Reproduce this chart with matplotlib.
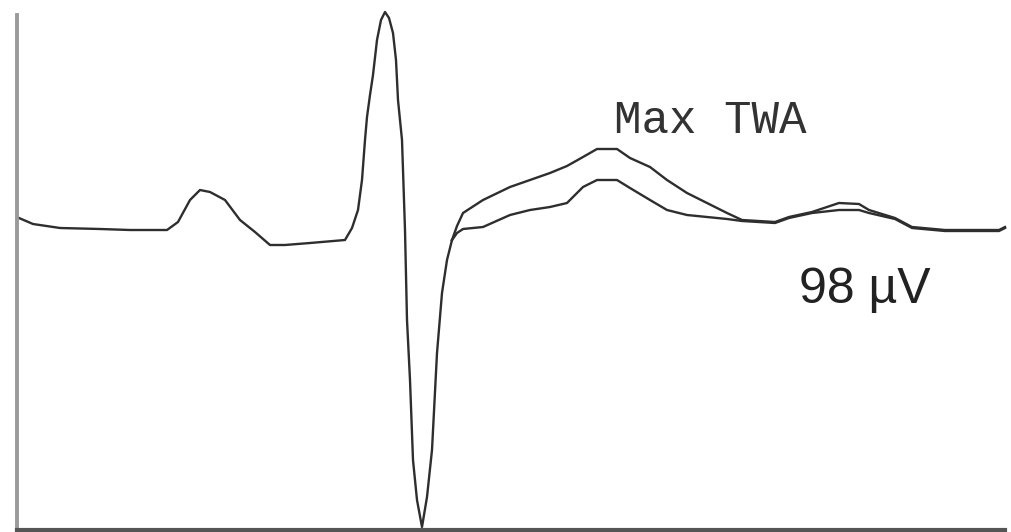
#!/usr/bin/env python3
# plot.py - averaged ECG beat with alternans overlay (max TWA), redrawn from a figure.
import matplotlib
matplotlib.use("Agg")
import matplotlib.pyplot as plt

# time (samples) and amplitude (arbitrary units)
# shared part: P wave, QRS, start of ST segment
t_common = [2, 16, 43, 83, 113, 150, 161, 173, 183, 193, 208, 223, 238, 253, 268,
            293, 328, 335, 341, 345, 348, 350, 353, 356, 360, 364, 368, 372, 376,
            379, 381, 385, 388, 390, 393, 396, 400, 405, 410, 415, 420, 425, 430, 435]
v_common = [312, 306, 302, 301, 300, 300, 308, 330, 340, 338, 330, 310, 298, 285, 285,
            287, 290, 302, 320, 350, 390, 413, 435, 455, 490, 510, 518, 512, 497,
            470, 430, 390, 300, 210, 150, 70, 30, 3, 33, 80, 177, 237, 270, 290]

# beat A (larger T wave) and beat B (smaller T wave)
t_beat = [435, 440, 446, 466, 493, 513, 533, 550, 566, 580, 600, 613, 633, 650, 670,
          690, 710, 725, 758, 772, 795, 822, 842, 852, 878, 895, 928, 982, 988]
v_beat_a = [290, 304, 317, 330, 343, 350, 357, 364, 373, 381, 381, 372, 363, 350, 337,
            327, 317, 310, 308, 313, 318, 327, 326, 320, 312, 303, 300, 300, 303]
v_beat_b = [290, 297, 301, 303, 315, 320, 323, 327, 343, 350, 350, 342, 330, 320, 315,
            313, 311, 309, 307, 312, 317, 320, 320, 317, 311, 302, 299, 299, 302]

title_txt = "Max TWA"
ampl_txt = "98 \u00b5V"

fig = plt.figure(figsize=(10.12, 5.32), dpi=100)
ax = fig.add_axes([17 / 1012, 2 / 532, 988 / 1012, 515 / 532])

lw = 1.7
col = "#2e2e2e"
ax.plot(t_common, v_common, color=col, lw=lw, clip_on=False, solid_joinstyle="round")
ax.plot(t_beat, v_beat_a, color=col, lw=lw, clip_on=False, solid_joinstyle="round")
ax.plot(t_beat, v_beat_b, color=col, lw=lw, clip_on=False, solid_joinstyle="round")

ax.set_xlim(0, 988)
ax.set_ylim(0, 515)
ax.set_xticks([])
ax.set_yticks([])
for side in ("top", "right"):
    ax.spines[side].set_visible(False)
ax.spines["left"].set_color("#9a9a9a")
ax.spines["left"].set_linewidth(2.8)
ax.spines["bottom"].set_color("#555555")
ax.spines["bottom"].set_linewidth(3)

ax.text(693, 397, title_txt, ha="center", va="baseline", fontsize=33,
        family="Liberation Mono", color="#333333")
ax.text(848, 240, ampl_txt, ha="center", va="center", fontsize=36,
        family="Liberation Sans", color="#222222")

fig.savefig("out.png", dpi=100)
